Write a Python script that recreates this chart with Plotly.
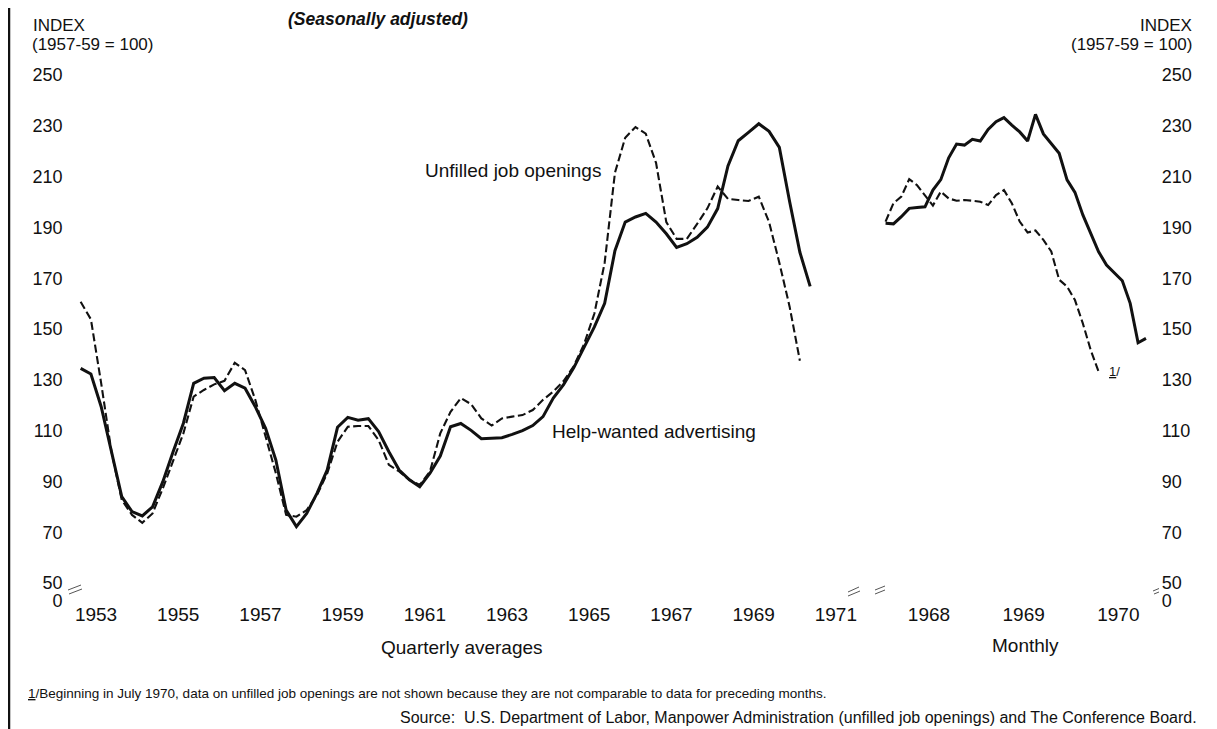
import plotly.graph_objects as go

# ---------------- data ----------------
# Quarterly averages, 1953 Q1 onward (index 1957-59 = 100)
help_wanted_q = [134.5, 132.3, 119.4, 101.7, 84.0, 78.1, 76.4, 80.0,
                 89.9, 101.7, 112.9, 128.6, 130.6, 130.9, 125.7, 128.6,
                 126.7, 119.4, 110.9, 98.4, 78.7, 72.2, 77.4, 85.3,
                 94.5, 111.3, 115.2, 114.1, 114.7, 109.6, 101.7, 94.5,
                 90.6, 87.9, 93.2, 100.0, 111.5, 112.8, 110.1, 106.8,
                 107.0, 107.2, 108.5, 110.0, 112.0, 115.5, 122.8, 128.1,
                 134.8, 142.8, 150.8, 160.1, 180.8, 192.1, 194.1, 195.5,
                 192.1, 187.5, 182.1, 183.6, 186.1, 190.1, 197.4, 214.2,
                 224.1, 227.4, 230.8, 227.8, 221.5, 200.2, 180.2, 166.8]
unfilled_q = [160.7, 153.8, 128.6, 101.7, 82.7, 76.8, 73.7, 77.4,
              87.3, 98.4, 108.9, 123.4, 126.0, 128.2, 129.6, 136.7,
              133.8, 122.1, 107.7, 93.2, 76.8, 76.1, 78.7, 84.6,
              93.2, 105.6, 111.5, 111.8, 111.8, 106.3, 96.5, 93.9,
              90.6, 88.6, 93.9, 108.9, 117.4, 122.8, 120.4, 114.8,
              112.0, 114.8, 115.5, 116.1, 118.1, 122.1, 125.4, 129.5,
              135.4, 144.1, 156.1, 176.1, 211.5, 225.3, 229.5, 226.9,
              215.4, 192.1, 185.5, 185.5, 191.4, 197.5, 206.1, 201.2,
              200.8, 200.4, 202.1, 192.1, 176.1, 158.8, 137.5]
q_start_year = 1953

# Monthly, January 1968 onward
help_wanted_m = [191.6, 191.4, 194.2, 197.5, 197.8, 198.1, 204.7, 208.8,
                 217.4, 222.8, 222.4, 224.7, 224.0, 228.6, 231.6, 233.2,
                 230.3, 227.6, 224.0, 234.5, 226.8, 223.1, 219.2, 208.7,
                 203.8, 194.9, 187.7, 180.4, 175.2, 171.9, 169.0, 160.1,
                 144.6, 146.3]
unfilled_m = [192.3, 199.5, 202.1, 209.0, 206.6, 202.6, 198.6, 204.1,
              201.4, 200.5, 200.8, 200.5, 200.1, 198.8, 202.7, 204.7,
              199.5, 192.3, 188.0, 188.8, 185.1, 180.5, 169.4, 166.7,
              161.4, 152.2, 141.7, 133.2]
m_start_year = 1968

q_tick_years = [1953, 1955, 1957, 1959, 1961, 1963, 1965, 1967, 1969, 1971]
m_tick_years = [1968, 1969, 1970]
y_tick_vals = [43.0, 50, 70, 90, 110, 130, 150, 170, 190, 210, 230, 250]
y_tick_text = ["0", "50", "70", "90", "110", "130", "150", "170", "190",
               "210", "230", "250"]

# ---------------- figure ----------------
OFF = 8                     # page body margin of the html page
W, H = 1217 - OFF, 729 - OFF
FONT = "Liberation Sans"
INK = "#111111"

qx = [q_start_year + (i + 0.5) / 4 for i in range(len(help_wanted_q))]
qx_u = [q_start_year + (i + 0.5) / 4 for i in range(len(unfilled_q))]
mx = [m_start_year + (i + 0.5) / 12 for i in range(len(help_wanted_m))]
mx_u = [m_start_year + (i + 0.5) / 12 for i in range(len(unfilled_m))]

solid = dict(color=INK, width=3.0)
dashed = dict(color=INK, width=2.1, dash="8px,3.5px")

fig = go.Figure()
fig.add_trace(go.Scatter(x=qx, y=help_wanted_q, mode="lines", line=solid,
                         xaxis="x", yaxis="y", name="Help-wanted advertising"))
fig.add_trace(go.Scatter(x=qx_u, y=unfilled_q, mode="lines", line=dashed,
                         xaxis="x", yaxis="y", name="Unfilled job openings"))
fig.add_trace(go.Scatter(x=mx, y=help_wanted_m, mode="lines", line=solid,
                         xaxis="x2", yaxis="y2", name="Help-wanted advertising"))
fig.add_trace(go.Scatter(x=mx_u, y=unfilled_m, mode="lines", line=dashed,
                         xaxis="x2", yaxis="y2", name="Unfilled job openings"))


def px(x):
    return (x - OFF) / W


def py(y):
    return 1 - (y - OFF) / H


yrange = [42.91, 251.97]
ytickfont = dict(family=FONT, size=18, color=INK)
xtickfont = dict(family=FONT, size=19, color=INK)
common = dict(showgrid=False, zeroline=False, showline=False, ticks="",
              automargin=False)

fig.update_layout(
    width=W, height=H, template="none",
    paper_bgcolor="white", plot_bgcolor="white",
    margin=dict(l=0, r=0, t=0, b=0),
    showlegend=False,
    xaxis=dict(domain=[px(75.5), px(856.4)], range=[1953.0, 1972.0],
               tickvals=[y + 0.5 for y in q_tick_years],
               ticktext=[str(y) for y in q_tick_years],
               tickfont=xtickfont, anchor="y", **common),
    xaxis2=dict(domain=[px(881.6), px(1165.7)], range=[1968.0, 1971.0],
                tickvals=[y + 0.5 for y in m_tick_years],
                ticktext=[str(y) for y in m_tick_years],
                tickfont=xtickfont, anchor="y2", **common),
    yaxis=dict(domain=[py(601), py(70)], range=yrange,
               tickvals=y_tick_vals, ticktext=y_tick_text,
               tickfont=ytickfont, anchor="x", side="left",
               ticklabelstandoff=12, **common),
    yaxis2=dict(domain=[py(601), py(70)], range=yrange,
                tickvals=y_tick_vals, ticktext=y_tick_text,
                tickfont=ytickfont, anchor="x2", side="right",
                ticklabelstandoff=-5, **common),
)

txt = dict(family=FONT, size=19, color=INK)
small = dict(family=FONT, size=17, color=INK)
annotations = [
    dict(x=px(378), y=py(19), text="<b><i>(Seasonally adjusted)</i></b>",
         xanchor="center", yanchor="middle",
         font=dict(family=FONT, size=17.5, color=INK)),
    dict(x=px(31), y=py(26), text="INDEX", xanchor="left", yanchor="middle",
         font=small),
    dict(x=px(30), y=py(45), text="(1957-59 = 100)", xanchor="left",
         yanchor="middle", font=small),
    dict(x=px(1194), y=py(26), text="INDEX", xanchor="right", yanchor="middle",
         font=small),
    dict(x=px(1194), y=py(45), text="(1957-59 = 100)", xanchor="right",
         yanchor="middle", font=small),
    dict(x=px(423), y=py(170), text="Unfilled job openings", xanchor="left",
         yanchor="middle", font=txt),
    dict(x=px(550), y=py(431), text="Help-wanted advertising", xanchor="left",
         yanchor="middle", font=txt),
    dict(x=px(462), y=py(647), text="Quarterly averages", xanchor="center",
         yanchor="middle", font=txt),
    dict(x=px(1026), y=py(645), text="Monthly", xanchor="center",
         yanchor="middle", font=txt),
    dict(x=px(1107), y=py(371), text="<u>1</u>/", xanchor="left",
         yanchor="middle", font=dict(family=FONT, size=13, color=INK)),
    dict(x=px(26), y=py(693),
         text="<u>1</u>/Beginning in July 1970, data on unfilled job openings are "
              "not shown because they are not comparable to data for preceding months.",
         xanchor="left", yanchor="middle",
         font=dict(family=FONT, size=13.5, color=INK)),
    dict(x=px(1199), y=py(717),
         text="Source:  U.S. Department of Labor, Manpower Administration "
              "(unfilled job openings) and The Conference Board.",
         xanchor="right", yanchor="middle",
         font=dict(family=FONT, size=16, color=INK)),
]
for a in annotations:
    a.update(xref="paper", yref="paper", showarrow=False)
fig.update_layout(annotations=annotations)

# decorative page border and axis-break marks
shapes = [dict(type="line", x0=px(9), x1=px(9), y0=py(OFF), y1=py(729),
               line=dict(color=INK, width=2.5))]
breaks = [((68, 590), (81, 585)), ((69, 594), (82, 589)),
          ((848, 592), (859, 587)), ((848, 596), (860, 591)),
          ((875, 590), (885, 586)), ((875, 594), (885, 590)),
          ((1153, 591), (1159, 588.5)), ((1154, 594), (1159, 592))]
for (xa, ya), (xb, yb) in breaks:
    shapes.append(dict(type="line", x0=px(xa), y0=py(ya), x1=px(xb), y1=py(yb),
                       line=dict(color="#555555", width=1)))
for s in shapes:
    s.update(xref="paper", yref="paper")
fig.update_layout(shapes=shapes)

fig.write_html("out.html")
